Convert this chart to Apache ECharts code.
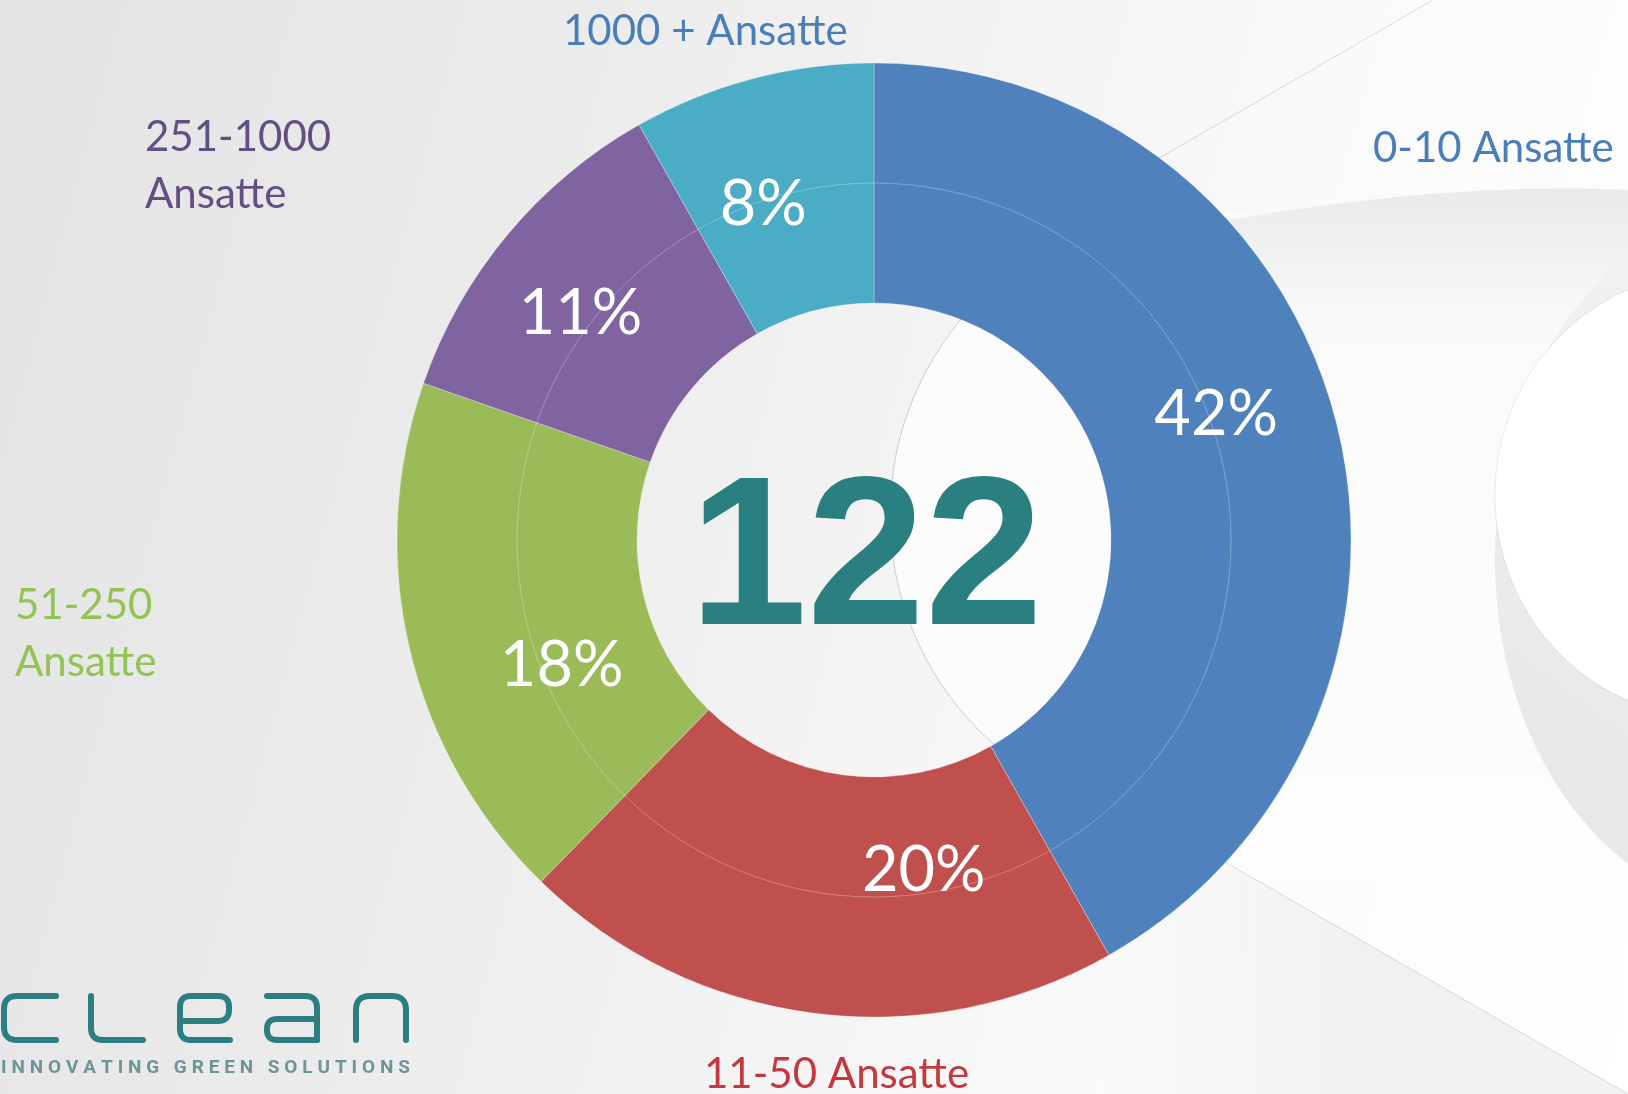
<!DOCTYPE html>
<html>
<head>
<meta charset="utf-8">
<title>Ansatte</title>
<script src="https://cdn.jsdelivr.net/npm/echarts@6/dist/echarts.min.js"></script>
<style>
  html, body { margin: 0; padding: 0; }
  body {
    background: linear-gradient(105deg, #e3e3e3 0%, #ebebeb 30%, #f4f4f4 55%, #fbfbfb 75%, #ffffff 100%);
  }
  #chart { width: 1628px; height: 1094px; }
</style>
</head>
<body>
<div id="chart"></div>
<script>
// data
const categories = ['0-10 Ansatte', '11-50 Ansatte', '51-250\nAnsatte', '251-1000\nAnsatte', '1000 + Ansatte']
const counts = [51, 25, 22, 14, 10]

// styles
const colors = ['#4f81bd', '#c0504d', '#9bbb59', '#8064a2', '#4bacc6']
const labelColors = ['#4a7ebb', '#c4393f', '#92c353', '#644e86', '#4a7ebb']
const nameSpots = [[1373, 148], [704, 1074], [15, 634], [145, 166], [563, 31]]
const pctNudge = [[-6, -34], [96, -26], [38, 43], [-17, 4], [-19, 13]]

const CX = 874
const CY = 540
const R0 = 237
const R1 = 477

const total = counts.reduce((a, b) => a + b, 0)
const chart = echarts.init(document.getElementById('chart'))

// polyline with rounded corners (quadratic corners, sampled)
const rounded = (pts, r) => {
  const out = [pts[0]]
  for (let i = 1; i < pts.length - 1; i++) {
    const [ax, ay] = pts[i - 1]
    const [px, py] = pts[i]
    const [bx, by] = pts[i + 1]
    const la = Math.hypot(px - ax, py - ay)
    const lb = Math.hypot(bx - px, by - py)
    const s = [px - (px - ax) / la * r, py - (py - ay) / la * r]
    const e = [px + (bx - px) / lb * r, py + (by - py) / lb * r]
    for (let k = 0; k <= 8; k++) {
      const t = k / 8
      out.push([
        (1 - t) * (1 - t) * s[0] + 2 * (1 - t) * t * px + t * t * e[0],
        (1 - t) * (1 - t) * s[1] + 2 * (1 - t) * t * py + t * t * e[1]
      ])
    }
  }
  out.push(pts[pts.length - 1])
  return out
}

const quadPts = (p0, c, p1, n) => {
  const out = []
  for (let k = 0; k <= n; k++) {
    const t = k / n
    out.push([
      (1 - t) * (1 - t) * p0[0] + 2 * (1 - t) * t * c[0] + t * t * p1[0],
      (1 - t) * (1 - t) * p0[1] + 2 * (1 - t) * t * c[1] + t * t * p1[1]
    ])
  }
  return out
}

// logo strokes
const logoStrokes = [
  rounded([[56, 996], [4, 996], [4, 1040], [56, 1040]], 13),
  rounded([[91, 996], [91, 1040], [143, 1040]], 12),
  rounded([[180, 1021], [229, 1021], [229, 996], [180, 996], [180, 1040], [230, 1040]], 11),
  rounded([[267, 996], [317, 996], [317, 1040]], 12),
  rounded([[317, 1019], [267, 1019], [267, 1040], [317, 1040]], 10),
  rounded([[356, 1040], [356, 996], [406, 996], [406, 1040]], 14)
]

// logo tagline, spread out letter by letter
const tagline = 'INNOVATING GREEN SOLUTIONS'
const tagFont = 'bold 19px "Liberation Sans Narrow", Roboto, sans-serif'
const ctx = document.createElement('canvas').getContext('2d')
ctx.font = tagFont
const widths = tagline.split('').map(ch => ctx.measureText(ch).width)
const sumW = widths.reduce((a, b) => a + b, 0)
const gap = (409 - sumW) / (tagline.length - 1)
const tagElems = []
let tx = 1
tagline.split('').forEach((ch, i) => {
  if (ch !== ' ') {
    tagElems.push({
      type: 'text',
      z: 20,
      style: { text: ch, x: tx, y: 1068, font: tagFont, fill: '#6c9597', verticalAlign: 'middle' }
    })
  }
  tx += widths[i] + gap
})

const softTop = quadPts([1150, 235], [1420, 180], [1628, 190], 24)
softTop.push([1628, 880], [1150, 880])

const decor = [
  // soft shapes behind the chart
  {
    type: 'circle',
    shape: { cx: 1195, cy: 515, r: 305 },
    style: { fill: '#fcfcfc' },
    silent: true
  },
  {
    type: 'arc',
    shape: { cx: 1195, cy: 515, r: 305, startAngle: 127 * Math.PI / 180, endAngle: 220 * Math.PI / 180, clockwise: true },
    style: { stroke: 'rgba(0,0,0,0.18)', lineWidth: 1, fill: null },
    silent: true
  },
  {
    type: 'polygon',
    shape: { points: softTop },
    style: {
      fill: new echarts.graphic.LinearGradient(0, 0, 0, 1, [
        { offset: 0, color: '#e8eaec' },
        { offset: 0.2, color: '#fafafa' },
        { offset: 1, color: '#fdfdfd' }
      ])
    },
    silent: true
  },
  {
    type: 'polygon',
    shape: { points: [[1100, 790], [1628, 1094], [1100, 1094]] },
    style: {
      fill: new echarts.graphic.LinearGradient(0, 0, 1, 0, [
        { offset: 0, color: 'rgba(240,240,240,0)' },
        { offset: 0.5, color: '#f1f1f1' },
        { offset: 1, color: '#f2f2f2' }
      ])
    },
    silent: true
  },
  {
    type: 'ellipse',
    shape: { cx: 1760, cy: 560, rx: 265, ry: 350 },
    style: {
      fill: new echarts.graphic.LinearGradient(0, 1, 1, 0, [
        { offset: 0, color: '#e4e5e7' },
        { offset: 1, color: '#f7f7f8' }
      ])
    },
    silent: true
  },
  {
    type: 'ellipse',
    shape: { cx: 1710, cy: 495, rx: 215, ry: 222 },
    style: { fill: '#ffffff', stroke: 'rgba(0,0,0,0.08)', lineWidth: 1 },
    silent: true
  },
  {
    type: 'line',
    shape: { x1: 1000, y1: 250, x2: 1433, y2: 0 },
    style: { stroke: 'rgba(0,0,0,0.13)', lineWidth: 1 },
    silent: true
  },
  {
    type: 'line',
    shape: { x1: 1100, y1: 790, x2: 1628, y2: 1094 },
    style: { stroke: 'rgba(0,0,0,0.13)', lineWidth: 1 },
    silent: true
  }
]

// faint ring between the two bands
const ring = {
  type: 'circle',
  z: 20,
  shape: { cx: CX, cy: CY, r: (R0 + R1) / 2 },
  style: { fill: null, stroke: 'rgba(255,255,255,0.28)', lineWidth: 1 },
  silent: true
}

const centerText = {
  type: 'text',
  z: 20,
  style: {
    text: String(total),
    x: 866,
    y: 566,
    font: 'bold 212px "Liberation Sans", Arial, sans-serif',
    fill: '#2a7f80',
    align: 'center',
    verticalAlign: 'middle'
  }
}

const nameTexts = categories.map((name, i) => ({
  type: 'text',
  z: 20,
  style: {
    text: name,
    x: nameSpots[i][0],
    y: nameSpots[i][1],
    font: '42px Lato, "Open Sans", sans-serif',
    lineHeight: 57,
    fill: labelColors[i],
    align: 'left',
    verticalAlign: 'middle'
  }
}))

const logo = logoStrokes.map(pts => ({
  type: 'polyline',
  z: 20,
  shape: { points: pts },
  style: { fill: null, stroke: '#2b7f80', lineWidth: 6, lineCap: 'round', lineJoin: 'round' },
  silent: true
}))

const option = {
  animation: false,
  graphic: { elements: [...decor, ring, centerText, ...nameTexts, ...logo, ...tagElems] },
  series: [
    {
      type: 'pie',
      center: [CX, CY],
      radius: [R0, R1],
      startAngle: 90,
      clockwise: true,
      silent: true,
      itemStyle: {
        borderColor: 'rgba(255,255,255,0.28)',
        borderWidth: 1
      },
      label: {
        show: true,
        position: 'inside',
        color: '#fff',
        fontSize: 63,
        fontFamily: 'Lato, "Open Sans", sans-serif',
        formatter: p => Math.round(p.percent) + '%'
      },
      labelLine: { show: false },
      data: counts.map((v, i) => ({
        name: categories[i],
        value: v,
        itemStyle: { color: colors[i] },
        label: { offset: pctNudge[i] }
      }))
    }
  ]
}

chart.setOption(option)
</script>
</body>
</html>
